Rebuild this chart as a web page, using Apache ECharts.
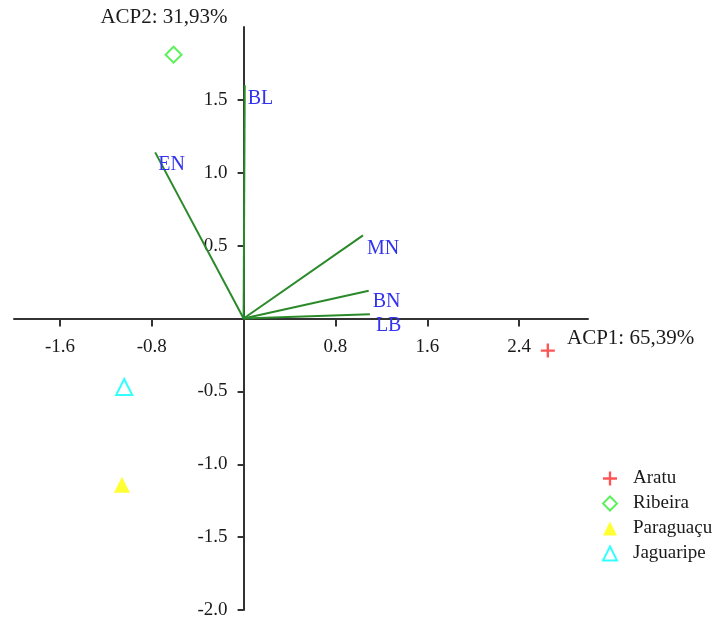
<!DOCTYPE html>
<html>
<head>
<meta charset="utf-8">
<script src="https://cdn.jsdelivr.net/npm/echarts@6/dist/echarts.min.js"></script>
<style>
  html, body { margin: 0; padding: 0; background: #fff; }
  #chart { width: 725px; height: 621px; }
</style>
</head>
<body>
<div id="chart"></div>
<script>
// Site scores on the first two principal components
const siteNames = ['Aratu', 'Ribeira', 'Paraguaçu', 'Jaguaripe'];
const siteScores = [[2.65, -0.22], [-0.61, 1.81], [-1.06, -1.14], [-1.04, -0.47]];

// Variable loadings drawn as vectors from the origin
const variableNames = ['BL', 'EN', 'MN', 'BN', 'LB'];
const variableLoadings = [[0.01, 1.60], [-0.77, 1.14], [1.04, 0.57], [1.09, 0.19], [1.10, 0.03]];

// Axis ranges and ticks
const xRange = [-2.0, 3.0];
const yRange = [-2.0, 2.0];
const xTicks = [-1.6, -0.8, 0.8, 1.6, 2.4];
const yTicks = [-2.0, -1.5, -1.0, -0.5, 0.5, 1.0, 1.5];
const xAxisTitle = 'ACP1: 65,39%';
const yAxisTitle = 'ACP2: 31,93%';

const serif = "'Liberation Serif', 'Times New Roman', serif";
const axisColor = '#333';
const textColor = '#1a1a1a';

const siteStyles = [
  { symbol: 'path://M0,5h12v2h-12z M5,0h2v12h-2z', symbolSize: 14, itemStyle: { color: '#ff2a2a' } },
  { symbol: 'diamond', symbolSize: 16, itemStyle: { color: '#fff', borderColor: '#33ee33', borderWidth: 2 } },
  { symbol: 'triangle', symbolSize: 16, itemStyle: { color: '#ffff00' } },
  { symbol: 'triangle', symbolSize: 16, itemStyle: { color: '#fff', borderColor: '#00ffff', borderWidth: 2 } }
];

// Where each vector's name sits relative to its tip
const labelOffsets = {
  BL: [3, 13], EN: [3, 12], MN: [4, 13], BN: [4, 11], LB: [6, 12]
};

const vectorSeries = variableNames.map((name, i) => ({
  type: 'line',
  name: name,
  symbol: 'none',
  silent: true,
  lineStyle: { color: '#2a8a2a', width: 2 },
  data: [[0, 0], variableLoadings[i]],
  endLabel: {
    show: true,
    formatter: name,
    distance: 0,
    offset: labelOffsets[name],
    color: '#3333ee',
    fontFamily: serif,
    fontSize: 20
  },
  z: 3
}));

const siteSeries = siteNames.map((name, i) => Object.assign({
  type: 'scatter',
  name: name,
  data: [siteScores[i]],
  symbolKeepAspect: true,
  emphasis: { disabled: true },
  z: 4
}, siteStyles[i]));

const chart = echarts.init(document.getElementById('chart'), null, { renderer: 'canvas' });
chart.setOption({
  animation: false,
  backgroundColor: '#fff',
  grid: { left: 14, right: 137, top: 27, bottom: 11, containLabel: false, outerBoundsMode: 'none' },
  legend: {
    data: siteNames,
    orient: 'vertical',
    left: 597,
    top: 464,
    itemWidth: 14,
    itemHeight: 14,
    itemGap: 6,
    symbolKeepAspect: true,
    textStyle: { fontFamily: serif, fontSize: 19, color: textColor, padding: [0, 0, 0, 11] },
    selectedMode: false
  },
  xAxis: {
    type: 'value',
    min: xRange[0],
    max: xRange[1],
    name: xAxisTitle,
    nameLocation: 'end',
    nameGap: -21,
    nameTextStyle: { fontFamily: serif, fontSize: 21, color: textColor, align: 'left', verticalAlign: 'top', lineHeight: 40 },
    axisLine: { onZero: false, lineStyle: { color: axisColor, width: 2 } },
    axisTick: { show: true, inside: false, length: 8, customValues: xTicks, lineStyle: { color: axisColor, width: 2 } },
    axisLabel: { customValues: xTicks, margin: 19, fontFamily: serif, fontSize: 19, color: textColor, formatter: v => v.toFixed(1) },
    splitLine: { show: false }
  },
  yAxis: {
    type: 'value',
    min: yRange[0],
    max: yRange[1],
    name: yAxisTitle,
    nameLocation: 'end',
    nameGap: -1,
    nameTextStyle: { fontFamily: serif, fontSize: 21, color: textColor, align: 'right', padding: [0, 16, 0, 0] },
    axisLine: { onZero: false, lineStyle: { color: axisColor, width: 2 } },
    axisTick: { show: true, inside: false, length: 6, customValues: yTicks, lineStyle: { color: axisColor, width: 2 } },
    axisLabel: { customValues: yTicks, margin: 16, fontFamily: serif, fontSize: 19, color: textColor, formatter: v => v.toFixed(1) },
    splitLine: { show: false }
  },
  series: vectorSeries.concat(siteSeries)
});

// Slide both axes (line, ticks and labels) so they cross at the origin
const origin = chart.convertToPixel({ gridIndex: 0 }, [0, 0]);
const corner = chart.convertToPixel({ gridIndex: 0 }, [xRange[0], yRange[0]]);
chart.setOption({
  xAxis: { offset: -(corner[1] - origin[1]) },
  yAxis: { offset: -(origin[0] - corner[0]) }
});
</script>
</body>
</html>
